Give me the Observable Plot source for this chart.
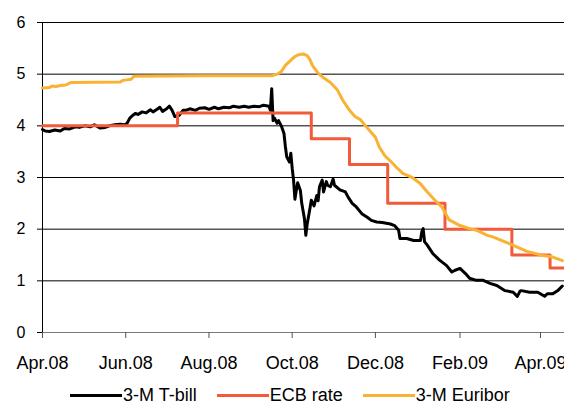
<!DOCTYPE html>
<html>
<head>
<meta charset="utf-8">
<script src="https://cdn.jsdelivr.net/npm/d3@7"></script>
<script src="https://cdn.jsdelivr.net/npm/@observablehq/plot@0.6"></script>
<style>
  html, body { margin: 0; padding: 0; background: #fff; overflow: hidden; width: 564px; height: 405px; }
  #chart svg { display: block; }
  .legend { display: flex; align-items: center; height: 18px; line-height: 18px; margin-top: 6px; padding-left: 70px;
            font: 18px "Liberation Sans", Arial, sans-serif; color: #000; white-space: nowrap; }
  .legend .item { display: flex; align-items: center; margin-right: 20px; }
  .legend .swatch { width: 52px; height: 3px; margin-right: 1px; }
</style>
</head>
<body>
<div id="chart"></div>
<div class="legend" id="legend"></div>
<script>
// 3-month T-bill yield (%)
const tbill = [
  ["2008-04-01", 3.93], ["2008-04-03", 3.90], ["2008-04-06", 3.89], ["2008-04-10", 3.92],
  ["2008-04-14", 3.90], ["2008-04-17", 3.95], ["2008-04-21", 3.94], ["2008-04-25", 3.98],
  ["2008-04-28", 3.97], ["2008-05-02", 4.00], ["2008-05-06", 3.98], ["2008-05-09", 4.02],
  ["2008-05-13", 3.96], ["2008-05-17", 3.97], ["2008-05-20", 4.00], ["2008-05-24", 4.02],
  ["2008-05-28", 4.03], ["2008-05-31", 4.02], ["2008-06-02", 4.05], ["2008-06-04", 4.15],
  ["2008-06-06", 4.20], ["2008-06-08", 4.24], ["2008-06-10", 4.22], ["2008-06-13", 4.27],
  ["2008-06-16", 4.25], ["2008-06-19", 4.31], ["2008-06-21", 4.27], ["2008-06-24", 4.32],
  ["2008-06-26", 4.36], ["2008-06-28", 4.28], ["2008-07-01", 4.33], ["2008-07-03", 4.38],
  ["2008-07-05", 4.30], ["2008-07-07", 4.18], ["2008-07-10", 4.20], ["2008-07-13", 4.30],
  ["2008-07-15", 4.30], ["2008-07-18", 4.33], ["2008-07-22", 4.30], ["2008-07-25", 4.34],
  ["2008-07-29", 4.35], ["2008-08-01", 4.32], ["2008-08-05", 4.36], ["2008-08-08", 4.33],
  ["2008-08-12", 4.36], ["2008-08-16", 4.35], ["2008-08-19", 4.38], ["2008-08-23", 4.36],
  ["2008-08-27", 4.38], ["2008-08-30", 4.36], ["2008-09-03", 4.38], ["2008-09-07", 4.37],
  ["2008-09-10", 4.40], ["2008-09-14", 4.38], ["2008-09-15", 4.30], ["2008-09-16", 4.72],
  ["2008-09-17", 4.10], ["2008-09-18", 4.15], ["2008-09-20", 4.05], ["2008-09-21", 4.10],
  ["2008-09-23", 4.00], ["2008-09-25", 3.85], ["2008-09-26", 3.60], ["2008-09-27", 3.40],
  ["2008-09-29", 3.30], ["2008-09-30", 3.47], ["2008-10-01", 3.18], ["2008-10-02", 2.95],
  ["2008-10-03", 2.58], ["2008-10-04", 2.75], ["2008-10-05", 2.90], ["2008-10-07", 2.75],
  ["2008-10-08", 2.50], ["2008-10-10", 2.20], ["2008-10-11", 1.88], ["2008-10-12", 2.10],
  ["2008-10-14", 2.40], ["2008-10-15", 2.56], ["2008-10-17", 2.45], ["2008-10-19", 2.65],
  ["2008-10-20", 2.55], ["2008-10-21", 2.82], ["2008-10-23", 2.95], ["2008-10-24", 2.72],
  ["2008-10-26", 2.92], ["2008-10-27", 2.85], ["2008-10-29", 2.82], ["2008-10-31", 2.97],
  ["2008-11-01", 2.85], ["2008-11-05", 2.76], ["2008-11-09", 2.72], ["2008-11-11", 2.62],
  ["2008-11-14", 2.50], ["2008-11-17", 2.43], ["2008-11-21", 2.30], ["2008-11-25", 2.23],
  ["2008-11-28", 2.17], ["2008-12-02", 2.14], ["2008-12-06", 2.13], ["2008-12-12", 2.10],
  ["2008-12-15", 2.07], ["2008-12-18", 1.98], ["2008-12-19", 1.82], ["2008-12-24", 1.82],
  ["2008-12-29", 1.78], ["2009-01-03", 1.78], ["2009-01-04", 1.95], ["2009-01-05", 2.01],
  ["2009-01-06", 1.76], ["2009-01-08", 1.69], ["2009-01-12", 1.53], ["2009-01-17", 1.40],
  ["2009-01-22", 1.30], ["2009-01-26", 1.17], ["2009-01-28", 1.20], ["2009-02-01", 1.24],
  ["2009-02-05", 1.14], ["2009-02-08", 1.05], ["2009-02-13", 1.01], ["2009-02-18", 1.01],
  ["2009-02-23", 0.95], ["2009-02-28", 0.91], ["2009-03-06", 0.81], ["2009-03-12", 0.78],
  ["2009-03-15", 0.70], ["2009-03-17", 0.80], ["2009-03-18", 0.81], ["2009-03-24", 0.78],
  ["2009-03-30", 0.78], ["2009-04-04", 0.70], ["2009-04-06", 0.75], ["2009-04-10", 0.75],
  ["2009-04-14", 0.82], ["2009-04-17", 0.90]
];

// ECB main refinancing rate (%), value from each change date onward
const ecb = [
  ["2008-04-01", 4.00], ["2008-07-09", 4.25], ["2008-10-15", 3.75], ["2008-11-12", 3.25],
  ["2008-12-10", 2.50], ["2009-01-21", 2.00], ["2009-03-11", 1.50], ["2009-04-08", 1.25],
  ["2009-04-18", 1.25]
];

// 3-month Euribor (%)
const euribor = [
  ["2008-04-01", 4.73], ["2008-04-06", 4.74], ["2008-04-08", 4.77], ["2008-04-11", 4.76],
  ["2008-04-14", 4.78], ["2008-04-18", 4.79], ["2008-04-22", 4.84], ["2008-05-28", 4.85],
  ["2008-05-30", 4.88], ["2008-06-05", 4.90], ["2008-06-07", 4.96], ["2008-07-25", 4.97],
  ["2008-09-16", 4.97], ["2008-09-20", 5.00], ["2008-09-23", 5.05], ["2008-09-26", 5.17],
  ["2008-10-02", 5.32], ["2008-10-05", 5.37], ["2008-10-09", 5.39], ["2008-10-12", 5.36],
  ["2008-10-14", 5.28], ["2008-10-16", 5.16], ["2008-10-20", 5.02], ["2008-10-24", 4.93],
  ["2008-10-29", 4.84], ["2008-11-03", 4.70], ["2008-11-07", 4.50], ["2008-11-12", 4.30],
  ["2008-11-16", 4.18], ["2008-11-20", 4.12], ["2008-11-23", 4.02], ["2008-11-27", 3.90],
  ["2008-12-01", 3.78], ["2008-12-04", 3.58], ["2008-12-08", 3.42], ["2008-12-12", 3.32],
  ["2008-12-17", 3.18], ["2008-12-21", 3.08], ["2008-12-28", 3.00], ["2009-01-03", 2.88],
  ["2009-01-08", 2.72], ["2009-01-13", 2.58], ["2009-01-19", 2.42], ["2009-01-24", 2.18],
  ["2009-02-01", 2.07], ["2009-02-08", 2.01], ["2009-02-13", 1.98], ["2009-02-21", 1.88],
  ["2009-02-25", 1.85], ["2009-03-10", 1.71], ["2009-03-22", 1.57], ["2009-04-03", 1.49],
  ["2009-04-10", 1.46], ["2009-04-17", 1.39]
];

const yTicks = [0, 1, 2, 3, 4, 5, 6];
const xTickDates = ["2008-04-01", "2008-06-01", "2008-08-01", "2008-10-01", "2008-12-01", "2009-02-01", "2009-04-01"];
const xTickLabels = ["Apr.08", "Jun.08", "Aug.08", "Oct.08", "Dec.08", "Feb.09", "Apr.09"];
const xStart = "2008-04-01";
const xEnd = "2009-04-18T14:00Z";

const seriesNames = ["3-M T-bill", "ECB rate", "3-M Euribor"];
const seriesColors = ["#000000", "#f15a3a", "#f9b233"];

const toDate = s => new Date(s);
const labelByTime = new Map(xTickDates.map((d, i) => [+toDate(d), xTickLabels[i]]));
const font = '"Liberation Sans", Arial, sans-serif';

const chart = Plot.plot({
  width: 564,
  height: 380,
  marginLeft: 42,
  marginRight: 0,
  marginTop: 22,
  marginBottom: 48,
  style: { fontFamily: font, background: "#fff", color: "#000" },
  x: { type: "utc", domain: [toDate(xStart), toDate(xEnd)] },
  y: { domain: [0, 6] },
  marks: [
    // horizontal gridlines
    Plot.ruleY(yTicks.filter(d => d > 0), { stroke: "#000", strokeWidth: 1 }),
    // category (bottom) axis line and value (left) axis line
    Plot.ruleY([0], { stroke: "#7a7a7a", strokeWidth: 1 }),
    Plot.ruleX([toDate(xStart)], { y1: 0, y2: 6, stroke: "#000", strokeWidth: 1 }),
    Plot.axisY({ ticks: yTicks, tickSize: 5, tickPadding: 12, fontSize: 16, label: null, tickFormat: d => String(d) }),
    Plot.axisX({ ticks: xTickDates.map(toDate), tickSize: 6, tickPadding: 18, fontSize: 18, label: null,
                 stroke: "#555", tickFormat: d => labelByTime.get(+d) }),
    Plot.line(tbill, { x: d => toDate(d[0]), y: d => d[1], stroke: seriesColors[0], strokeWidth: 3 }),
    Plot.line(ecb, { x: d => toDate(d[0]), y: d => d[1], curve: "step-after", stroke: seriesColors[1], strokeWidth: 3 }),
    Plot.line(euribor, { x: d => toDate(d[0]), y: d => d[1], stroke: seriesColors[2], strokeWidth: 3 })
  ]
});
document.getElementById("chart").append(chart);

// legend below the plot
const legend = document.getElementById("legend");
seriesNames.forEach((name, i) => {
  const item = document.createElement("div");
  item.className = "item";
  const sw = document.createElement("span");
  sw.className = "swatch";
  sw.style.background = seriesColors[i];
  const label = document.createElement("span");
  label.textContent = name;
  item.append(sw, label);
  legend.append(item);
});
</script>
</body>
</html>
